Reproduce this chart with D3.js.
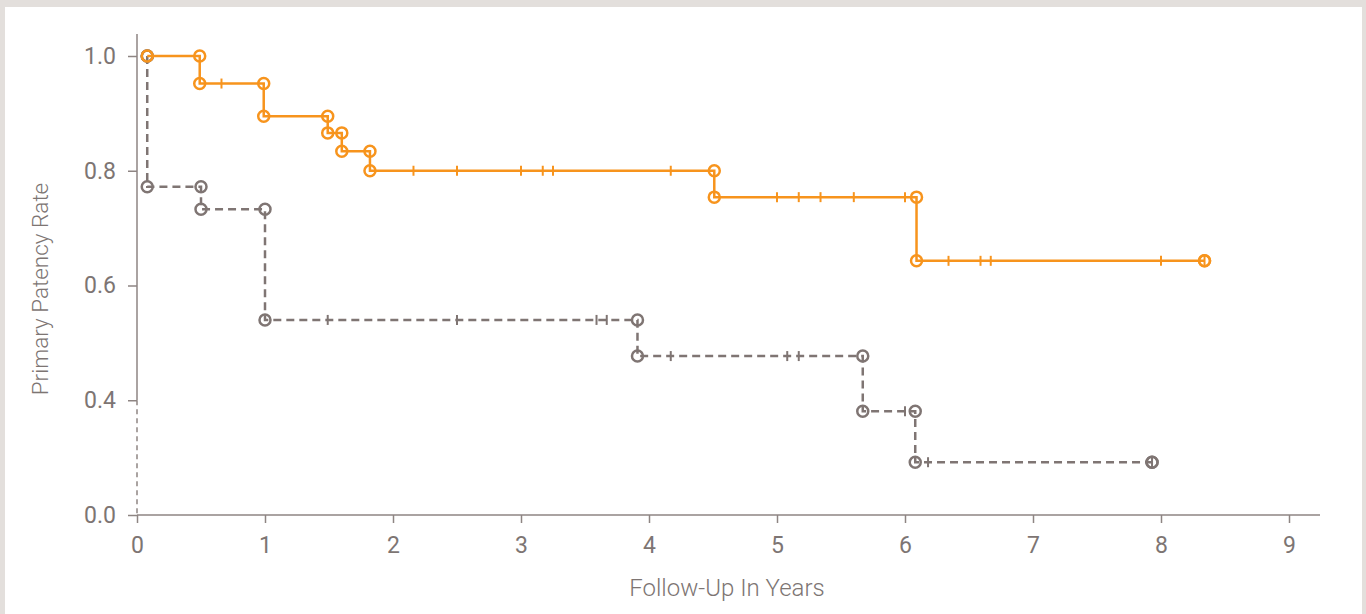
<!DOCTYPE html>
<html><head><meta charset="utf-8">
<script src="https://cdn.jsdelivr.net/npm/d3@7"></script>
<style>
html,body{margin:0;padding:0;background:#e3dfdc;}
svg{display:block;}
text{font-family:Roboto,"Open Sans",sans-serif;fill:#7d7573;}
</style></head><body>
<svg id="chart" width="1366" height="614"></svg>
<script>
// ---- data ----
const xTickValues = [0,1,2,3,4,5,6,7,8,9];
const yTickValues = [0.2,0.4,0.6,0.8,1.0];
const yTickLabels = ["0.0","0.4","0.6","0.8","1.0"];

// treatment (orange) step curve
const orangeTimes = [0.08, 0.49, 0.99, 1.49, 1.6, 1.82, 4.51, 6.09, 8.34];
const orangeSurv  = [1.0, 0.952, 0.895, 0.866, 0.834, 0.80, 0.754, 0.643, 0.643];
const orangeCensor = [0.66, 2.16, 2.5, 3.0, 3.17, 3.25, 4.17, 5.0, 5.17, 5.34, 5.6, 6.0, 6.34, 6.59, 6.67, 8.0, 8.34];

// control (gray dashed) step curve
const grayTimes = [0.08, 0.08, 0.5, 1.0, 3.91, 5.67, 6.08, 7.93];
const graySurv  = [1.0, 0.772, 0.733, 0.540, 0.477, 0.381, 0.292, 0.292];
const grayCensor = [1.49, 2.5, 3.59, 3.67, 4.17, 5.08, 5.17, 6.0, 6.18, 7.93];

// ---- layout ----
const svg = d3.select("#chart");
svg.append("rect").attr("x",5).attr("y",7).attr("width",1357).attr("height",607).attr("fill","#ffffff");

const x = d3.scaleLinear().domain([0,9]).range([137,1289]);
const y = d3.scaleLinear().domain([0.2,1.0]).range([515,56]);
const axisColor = "#8e8583";
const ORANGE = "#f7941d", GRAY = "#7f7573";

// x axis
const xAxis = svg.append("g").attr("transform","translate(0,515)")
  .call(d3.axisBottom(x).tickValues(xTickValues).tickFormat(d3.format("d")).tickSize(8).tickSizeOuter(0).tickPadding(14));
xAxis.select(".domain").remove();
xAxis.append("line").attr("x1",x(0)).attr("x2",1320).attr("y1",0).attr("y2",0).attr("stroke",axisColor).attr("stroke-width",1.5);
xAxis.selectAll(".tick line").attr("stroke",axisColor).attr("stroke-width",1.5);
xAxis.selectAll(".tick text").attr("font-size",23).style("fill","#7d7573");

// y axis
const yAxis = svg.append("g").attr("transform","translate(137,0)")
  .call(d3.axisLeft(y).tickValues(yTickValues).tickFormat((d,i)=>yTickLabels[i]).tickSize(9).tickSizeOuter(0).tickPadding(12));
yAxis.select(".domain").remove();
yAxis.append("line").attr("x1",0).attr("x2",0).attr("y1",34).attr("y2",y(0.4)).attr("stroke",axisColor).attr("stroke-width",1.5);
yAxis.append("line").attr("x1",0).attr("x2",0).attr("y1",y(0.4)).attr("y2",515).attr("stroke",axisColor).attr("stroke-width",1.5).attr("stroke-dasharray","5,4");
yAxis.selectAll(".tick line").attr("stroke",axisColor).attr("stroke-width",1.5);
yAxis.selectAll(".tick text").attr("font-size",23).style("fill","#7d7573");

// titles
svg.append("text").attr("x",727).attr("y",596).attr("text-anchor","middle").attr("font-size",24).attr("font-weight",300).text("Follow-Up In Years");
svg.append("text").attr("transform","translate(48,289) rotate(-90)").attr("text-anchor","middle").attr("font-size",22.5).attr("font-weight",300).text("Primary Patency Rate");

// ---- series ----
function drawSeries(times, surv, censor, color, dash) {
  const pts = times.map((t,i)=>[t,surv[i]]);
  const line = d3.line().x(d=>x(d[0])).y(d=>y(d[1])).curve(d3.curveStepAfter);
  const g = svg.append("g");
  g.append("path").attr("d",line(pts)).attr("fill","none").attr("stroke",color)
    .attr("stroke-width",2.5).attr("stroke-dasharray",dash);
  // censor ticks
  const levelAt = t => { const i = d3.bisectRight(times,t)-1; return surv[Math.max(0,i)]; };
  g.selectAll("line.c").data(censor).join("line").attr("class","c")
    .attr("x1",d=>x(d)).attr("x2",d=>x(d))
    .attr("y1",d=>y(levelAt(d))-5).attr("y2",d=>y(levelAt(d))+5)
    .attr("stroke",color).attr("stroke-width",2);
  // event circles
  const circ = [[times[0],surv[0]]];
  for (let i=1;i<times.length;i++){ circ.push([times[i],surv[i-1]]); circ.push([times[i],surv[i]]); }
  g.selectAll("circle").data(circ).join("circle")
    .attr("cx",d=>x(d[0])).attr("cy",d=>y(d[1])).attr("r",5.5)
    .attr("fill","none").attr("stroke",color).attr("stroke-width",2.5);
}
drawSeries(grayTimes, graySurv, grayCensor, GRAY, "8,5");
drawSeries(orangeTimes, orangeSurv, orangeCensor, ORANGE, null);
</script>
</body></html>
